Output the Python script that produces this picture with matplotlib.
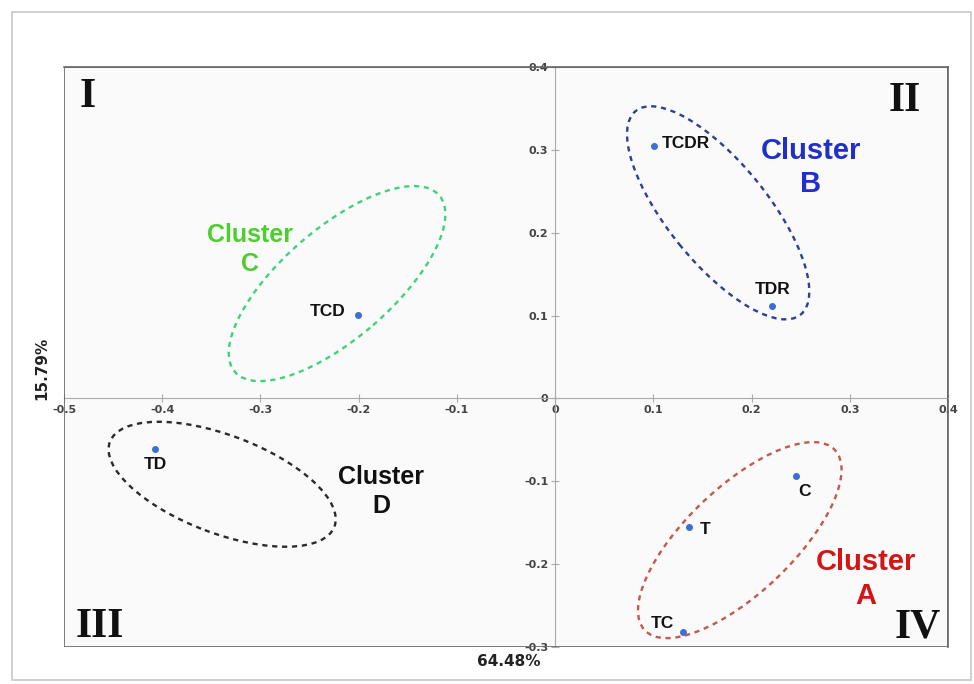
import matplotlib.pyplot as plt
import matplotlib.transforms as mtransforms
from matplotlib.patches import Ellipse, Rectangle

plt.rcParams["axes.unicode_minus"] = False

# 1) Data: PCA scores
samples = ["TCDR", "TDR", "TCD", "TD", "C", "T", "TC"]
pc1 = [0.101, 0.221, -0.201, -0.407, 0.245, 0.136, 0.130]
pc2 = [0.305, 0.111, 0.101, -0.061, -0.094, -0.155, -0.282]

x_ticks = [-0.5, -0.4, -0.3, -0.2, -0.1, 0, 0.1, 0.2, 0.3, 0.4]
x_tick_labels = ["-0.5", "-0.4", "-0.3", "-0.2", "-0.1", "0", "0.1", "0.2", "0.3", "0.4"]
y_ticks = [-0.3, -0.2, -0.1, 0, 0.1, 0.2, 0.3, 0.4]
y_tick_labels = ["-0.3", "-0.2", "-0.1", "0", "0.1", "0.2", "0.3", "0.4"]

# clusters: label, centre (data), ellipse axes (inches), tilt
clusters = ["Cluster\nA", "Cluster\nB", "Cluster\nC", "Cluster\nD"]
cluster_cx = [0.188, 0.166, -0.222, -0.339]
cluster_cy = [-0.171, 0.224, 0.1386, -0.1036]
cluster_w = [2.62, 2.62, 2.70, 2.40]
cluster_h = [1.06, 1.00, 1.10, 0.98]
cluster_ang = [43.5, -51.0, 40.8, -20.7]
cluster_label_x = [0.316, 0.260, -0.311, -0.177]
cluster_label_y = [-0.218, 0.279, 0.180, -0.1127]
cluster_sizes = [21, 21, 18, 18]
ring_colors = ["#c4584a", "#2c3f94", "#3fd27a", "#2a2a2a"]
text_colors = ["#d41515", "#1f2fcc", "#4ccf2c", "#111111"]

quadrants = ["I", "II", "III", "IV"]

# label offsets in points (dx, dy, ha)
offsets = {
    "TCDR": (5, 1.5, "left"),
    "TDR": (0, 12, "center"),
    "TCD": (-9, 2, "right"),
    "TD": (0, -11.5, "center"),
    "C": (6.5, -11, "center"),
    "T": (8, -2, "left"),
    "TC": (-6, 6.5, "right"),
}

# 2) Figure
fig = plt.figure(figsize=(9.74, 6.84), dpi=100)
fig.patches.append(Rectangle((12 / 974, 4 / 684), 959 / 974, 668 / 684,
                             transform=fig.transFigure, fill=False,
                             ec="#c8c8c8", lw=1.2))
ax = fig.add_axes([64 / 974, 37 / 684, 884 / 974, 580 / 684])
ax.set_facecolor("#fafafa")
ax.set_xlim(-0.5, 0.4)
ax.set_ylim(-0.3, 0.4)

# frame + centre axes
for s in ["top", "right"]:
    ax.spines[s].set_color("#666666")
    ax.spines[s].set_linewidth(1.2)
ax.add_patch(Rectangle((0, 0), 1, 1, transform=ax.transAxes, fill=False,
                       ec="#666666", lw=1.2, zorder=5))
ax.spines["left"].set_position(("data", 0))
ax.spines["bottom"].set_position(("data", 0))
ax.spines["left"].set_color("#aaaaaa")
ax.spines["bottom"].set_color("#aaaaaa")

ax.set_xticks(x_ticks)
ax.set_xticklabels(x_tick_labels)
ax.set_yticks(y_ticks)
ax.set_yticklabels(y_tick_labels)
ax.tick_params(direction="inout", length=6, color="#aaaaaa",
               labelsize=8, labelcolor="#444444", pad=2)
for lab in ax.get_xticklabels() + ax.get_yticklabels():
    lab.set_fontweight("bold")

# ellipses
for cx, cy, w, h, a, col in zip(cluster_cx, cluster_cy, cluster_w, cluster_h,
                                cluster_ang, ring_colors):
    tr = fig.dpi_scale_trans + mtransforms.ScaledTranslation(cx, cy, ax.transData)
    ax.add_patch(Ellipse((0, 0), w, h, angle=a, transform=tr, fill=False,
                         ec=col, lw=1.7, ls=(0, (2.2, 2.0))))

# points + labels
ax.plot(pc1, pc2, "o", ms=4, color="#3b6fd6", zorder=6)
for name, x, y in zip(samples, pc1, pc2):
    dx, dy, ha = offsets[name]
    ax.annotate(name, (x, y), xytext=(dx, dy), textcoords="offset points",
                ha=ha, va="center", fontsize=12.5, fontweight="bold",
                family="Liberation Sans", color="#111111")

# cluster names
for lab, x, y, fs, col in zip(clusters, cluster_label_x, cluster_label_y,
                              cluster_sizes, text_colors):
    ax.text(x, y, lab, ha="center", va="center", fontsize=fs,
            fontweight="bold", family="Liberation Sans", color=col,
            linespacing=1.25)

# quadrant numerals
quad_x = [0.027, 0.951, 0.041, 0.966]
quad_y = [0.948, 0.942, 0.034, 0.034]
for q, x, y in zip(quadrants, quad_x, quad_y):
    ax.text(x, y, q, transform=ax.transAxes, ha="center", va="center",
            fontsize=30, fontweight="bold", family="Liberation Serif",
            color="#111111")

# axis titles
fig.text(42 / 974, 1 - 368 / 684, "15.79%", rotation=90, ha="center",
         va="center", fontsize=11, fontweight="bold", color="#222222")
fig.text(509 / 974, 1 - 662 / 684, "64.48%", ha="center", va="center",
         fontsize=11, fontweight="bold", color="#222222")

fig.savefig("out.png", dpi=100)
plt.close(fig)
